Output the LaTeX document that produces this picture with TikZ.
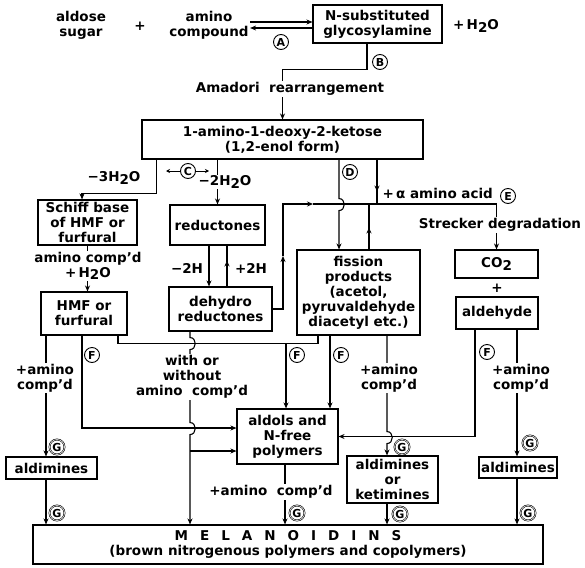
\documentclass[tikz,border=0pt]{standalone}
\usepackage{fontspec}
\setmainfont{DejaVu Sans}
\usetikzlibrary{arrows.meta}
\newcommand{\wat}{H\raisebox{-0.35ex}{2}O}
\newcommand{\lsp}{\hspace{12pt}}
\begin{document}
\begin{tikzpicture}[x=1pt,y=-1pt,line width=1.1pt,
  every node/.style={font=\fontsize{13.5}{15}\selectfont\bfseries},
  box/.style 2 args={draw,align=center,inner sep=1pt,minimum width=#1,minimum height=#2},
  txt/.style={align=center,inner sep=1pt},
  wtxt/.style={txt,fill=white},
  arr/.style={-{Stealth[length=6pt,width=5pt]}},
  lab/.style={circle,draw,fill=white,inner sep=0pt,minimum size=15pt,line width=0.9pt,font=\fontsize{11}{11}\selectfont\bfseries},
  labg/.style={lab,double,line width=0.6pt,double distance=0.6pt}]
  \useasboundingbox (0,0) rectangle (585,567);

  \node[txt] (sugar) at (81,25) {aldose\\sugar};
  \node[txt] (plus) at (140,26) {+};
  \node[txt] (amine) at (209,25) {amino\\compound};
  \node[box={129pt}{38pt}] (gly) at (377.5,24) {N-substituted\\glycosylamine};
  \node[txt] (water) at (476,26) {+\,\wat};
  \draw[arr] ([yshift=3pt]amine.east) -- ([yshift=2pt]gly.west);
  \draw[arr] ([yshift=-4pt]gly.west) -- ([yshift=-3pt]amine.east);
  \node[lab] (la) at (281,42) {A};

  \node[box={281pt}{39pt}] (keto) at (282.5,139.5) {1-amino-1-deoxy-2-ketose\\(1,2-enol form)};
  \draw[arr] ([xshift=-10.5pt]gly.south) -- ++(0,26) -| (keto.north);
  \node[lab] (lb) at (380,62) {B};
  \node[wtxt] (amadori) at (290,89) {Amadori\ \ rearrangement};

  \node[box={99pt}{45pt}] (schiff) at (87.5,222.5) {Schiff base\\of HMF or\\furfural};
  \node[box={86pt}{43pt}] (hmf) at (84,313.5) {HMF or\\furfural};
  \node[box={95pt}{40pt}] (reduc) at (217.5,225) {reductones};
  \node[box={103pt}{44pt}] (dehyd) at (220.5,309) {dehydro\\reductones};
  \node[box={123pt}{85pt}] (fiss) at (358.5,292.5) {fission\\products\\(acetol,\\pyruvaldehyde\\diacetyl etc.)};
  \node[box={83pt}{28pt}] (co2) at (496.5,264) {CO\raisebox{-0.35ex}{2}};
  \node[txt] (plus2) at (497,288) {+};
  \node[box={82pt}{32pt}] (aldeh) at (497,313) {aldehyde};
  \node[box={101pt}{55pt}] (aldols) at (287.5,436.5) {aldols and\\N-free\\polymers};
  \node[box={91pt}{22pt}] (aldimL) at (51.5,468) {aldimines};
  \node[box={91pt}{47pt}] (aldket) at (392.5,479.5) {aldimines\\or\\ketimines};
  \node[box={78pt}{21pt}] (aldimR) at (518,467.5) {aldimines};
  \node[box={510pt}{39pt}] (mel) at (288,544.5) {M\lsp E\lsp L\lsp A\lsp N\lsp O\lsp I\lsp D\lsp I\lsp N\lsp S\\(brown nitrogenous polymers and copolymers)};

  \draw[arr] ([xshift=15pt]keto.south west) -- ++(0,34) -| ([xshift=-5.5pt]schiff.north);
  \node[txt] (m3w) at (114,178) {−3\wat};
  \draw[{Stealth[length=4pt,width=4pt]}-{Stealth[length=4pt,width=4pt]},line width=0.8pt] (166,171) -- (209,171);
  \node[lab] (lc) at (188,171) {C};
  \draw[arr] (reduc.north |- keto.south) -- (reduc.north);
  \node[wtxt] (m2w) at (225,182) {−2\wat};

  \draw[arr] (schiff.south) -- (schiff.south |- hmf.north);
  \node[wtxt] (acw) at (88,266) {amino comp’d\\+\,\wat};

  \draw[arr] ([xshift=-8.5pt]reduc.south) -- ([xshift=-11.5pt]dehyd.north);
  \draw[arr] ([xshift=6.5pt]dehyd.north) -- ++(0,-26);
  \draw ([xshift=9.5pt]reduc.south) -- ++(0,16);
  \node[txt] (m2h) at (187,268) {−2H};
  \node[txt] (p2h) at (251,268) {+2H};

  \coordinate (up) at (283,204);
  \draw[arr] (dehyd.east) -| (283,256);
  \draw[arr] (283,256) |- (313,204);
  \draw[arr] (313,204) -| (co2.north);
  \node[wtxt] (strecker) at (500,225) {Strecker degradation};

  \draw[arr] ([xshift=94.5pt]keto.south) -- ++(0,32);
  \draw ([xshift=94.5pt]keto.south) -- ++(0,45);
  \node[txt,anchor=west] (aa) at (381,193) {+\,α amino acid};
  \node[lab] (le) at (508,196) {E};

  \draw[arr] ([xshift=56.5pt]keto.south) -- ++(0,39) .. controls +(7,0) and +(7,0) .. ++(0,12) -- ([xshift=-19.5pt]fiss.north);
  \node[lab] (ld) at (350,172) {D};
  \draw[arr] ([xshift=10.5pt]fiss.north) -- ++(0,-22);
  \draw ([xshift=10.5pt]fiss.north) -- ++(0,-46);

  \draw[arr] ([xshift=-38pt]hmf.south) -- ([xshift=-5.5pt]aldimL.north);
  \node[wtxt] (acl) at (45,378) {+amino\\comp’d};
  \node[labg] (g1) at (57,447) {G};
  \draw[arr] ([xshift=-5.5pt]aldimL.south) -- ([xshift=-5.5pt]aldimL.south |- mel.north);
  \node[labg] (g2) at (57,513) {G};

  \draw[arr] ([xshift=-2pt]hmf.south) |- ([yshift=8.5pt]aldols.west);
  \node[lab] (f1) at (92,355) {F};
  \draw ([xshift=34pt]hmf.south) -- ++(0,8) -| ([xshift=-40.5pt]fiss.south);
  \coordinate (fj) at (286,343);
  \draw[arr] (fj) -- (fj |- aldols.north);
  \node[lab] (f2) at (297,355) {F};
  \draw[arr] ([xshift=-28.5pt]fiss.south) -- ([xshift=-28.5pt]fiss.south |- aldols.north);
  \node[lab] (f3) at (341,355) {F};

  \draw[arr] ([xshift=-30.5pt]dehyd.south) -- ++(0,6) .. controls +(7,0) and +(7,0) .. ++(0,12) -- ++(0,73) .. controls +(7,0) and +(7,0) .. ++(0,12) -- ([xshift=-98pt]mel.north);
  \node[wtxt] (wwo) at (192,377) {with or\\without\\amino\ \ comp’d};
  \coordinate (wj) at (190,451);
  \draw[arr] (wj) -- ([yshift=-14.5pt]aldols.west);

  \draw[arr] ([xshift=-2.5pt]aldols.south) -- ([xshift=-3pt]mel.north);
  \node[wtxt] (acb) at (271,492) {+amino\ \ comp’d};
  \node[labg] (g3) at (297,513) {G};

  \draw[arr] ([xshift=28.5pt]fiss.south) -- ++(0,96) .. controls +(7,0) and +(7,0) .. ++(0,12) -- ([xshift=-5.5pt]aldket.north);
  \node[wtxt] (acm) at (389,378) {+amino\\comp’d};
  \node[labg] (g4) at (402,447) {G};
  \draw[arr] ([xshift=-5.5pt]aldket.south) -- ([xshift=99pt]mel.north);
  \node[labg] (g5) at (400,514) {G};

  \draw[arr] ([xshift=-22pt]aldeh.south) |- (aldols.east);
  \node[lab] (f4) at (487,352) {F};
  \draw[arr] ([xshift=20pt]aldeh.south) -- ([xshift=-1pt]aldimR.north);
  \node[wtxt] (acr) at (521,378) {+amino\\comp’d};
  \node[labg] (g6) at (530,443) {G};
  \draw[arr] ([xshift=-1pt]aldimR.south) -- ([xshift=229pt]mel.north);
  \node[labg] (g7) at (528,513) {G};
\end{tikzpicture}
\end{document}
